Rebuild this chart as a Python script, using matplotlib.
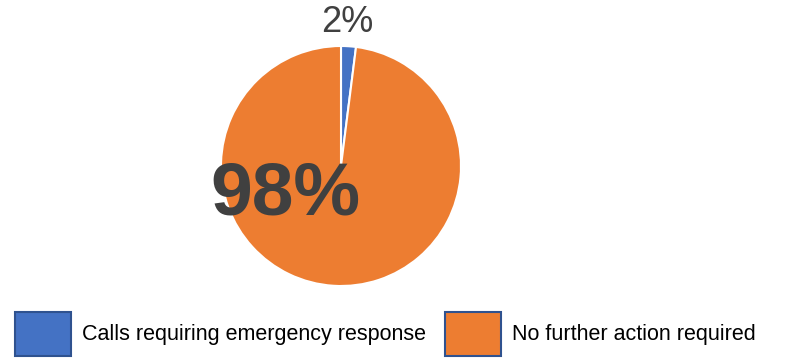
import matplotlib
matplotlib.use("Agg")
import matplotlib.pyplot as plt
from matplotlib.patches import Patch

# call outcome split
categories = ["Calls requiring emergency response", "No further action required"]
shares     = [2, 98]
colors     = ["#4472C4", "#ED7D31"]

W, H = 788, 358
fig = plt.figure(figsize=(W / 100, H / 100), dpi=100)
ax = fig.add_axes([0, 0, 1, 1])

wedges, _ = ax.pie(shares, colors=colors, startangle=90, counterclock=False,
                   center=(341, H - 166), radius=120,
                   wedgeprops=dict(edgecolor="white", linewidth=1.5))
ax.set_xlim(0, W)
ax.set_ylim(0, H)
ax.set_aspect("equal")
ax.axis("off")

# value labels
ax.text(347, H - 22, f"{shares[0]}%", ha="center", va="center",
        fontsize=26, color="#404040", family="Liberation Sans")
ax.text(285, H - 195, f"{shares[1]}%", ha="center", va="center",
        fontsize=54, fontweight="bold", color="#404040", family="Liberation Sans")

handles = [Patch(facecolor=c, edgecolor="#2F528F", linewidth=1.5) for c in colors]
leg = ax.legend(handles, categories, ncol=2, frameon=False,
                loc="upper left", bbox_to_anchor=(15 / W, 1 - 312 / H),
                bbox_transform=fig.transFigure, borderpad=0, borderaxespad=0,
                handlelength=2.6, handleheight=2.75, handletextpad=0.5,
                columnspacing=0.9, prop=dict(family="Liberation Sans", size=15.5))
for t in leg.get_texts():
    t.set_color("black")

fig.savefig("out.png", dpi=100)
